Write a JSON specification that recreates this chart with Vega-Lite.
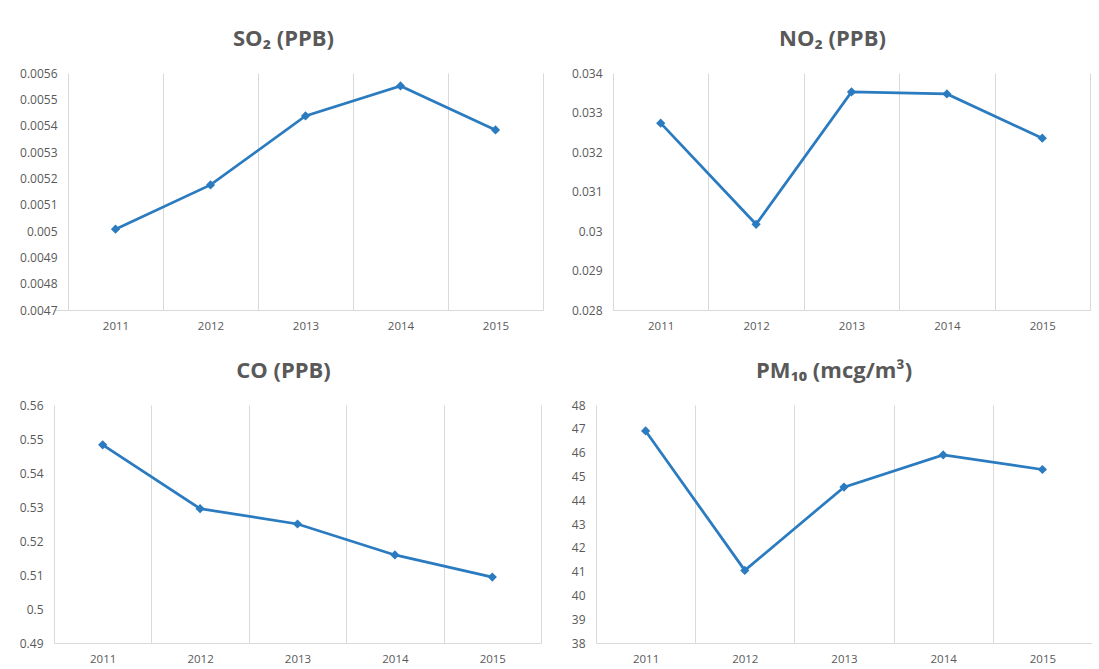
{
  "$schema": "https://vega.github.io/schema/vega-lite/v6.json",
  "background": "white",
  "padding": {"left": 0, "top": 28, "right": 0, "bottom": 0},
  "data": {"values": [
    {"pollutant": "SO2", "year": 2011, "value": 0.005007},
    {"pollutant": "SO2", "year": 2012, "value": 0.005175},
    {"pollutant": "SO2", "year": 2013, "value": 0.005437},
    {"pollutant": "SO2", "year": 2014, "value": 0.005551},
    {"pollutant": "SO2", "year": 2015, "value": 0.005384},
    {"pollutant": "NO2", "year": 2011, "value": 0.03273},
    {"pollutant": "NO2", "year": 2012, "value": 0.03017},
    {"pollutant": "NO2", "year": 2013, "value": 0.03352},
    {"pollutant": "NO2", "year": 2014, "value": 0.03347},
    {"pollutant": "NO2", "year": 2015, "value": 0.03235},
    {"pollutant": "CO", "year": 2011, "value": 0.5483},
    {"pollutant": "CO", "year": 2012, "value": 0.5295},
    {"pollutant": "CO", "year": 2013, "value": 0.525},
    {"pollutant": "CO", "year": 2014, "value": 0.5159},
    {"pollutant": "CO", "year": 2015, "value": 0.5094},
    {"pollutant": "PM10", "year": 2011, "value": 46.91},
    {"pollutant": "PM10", "year": 2012, "value": 41.05},
    {"pollutant": "PM10", "year": 2013, "value": 44.55},
    {"pollutant": "PM10", "year": 2014, "value": 45.9},
    {"pollutant": "PM10", "year": 2015, "value": 45.29}
  ]},
  "columns": 2,
  "align": "none",
  "spacing": {"row": 28, "column": 20},
  "concat": [
    {
      "width": 489, "height": 237,
      "title": {"text": "SO₂ (PPB)", "dx": -15},
      "transform": [{"filter": "datum.pollutant === 'SO2'"}],
      "mark": {"type": "line", "color": "#2a7bbf", "strokeWidth": 2.75, "point": {"shape": "diamond", "size": 85, "filled": true, "color": "#2a7bbf", "opacity": 1}},
      "encoding": {
        "x": {"field": "year", "type": "ordinal", "scale": {"type": "band", "paddingInner": 0, "paddingOuter": 0.0737, "align": 1}, "axis": {"title": null}},
        "y": {"field": "value", "type": "quantitative", "scale": {"domain": [0.0047, 0.0056], "zero": false, "nice": false}, "axis": {"title": null, "tickCount": 9, "labelPadding": -3}}
      }
    },
    {
      "width": 477, "height": 237,
      "title": {"text": "NO₂ (PPB)", "dx": -19},
      "transform": [{"filter": "datum.pollutant === 'NO2'"}],
      "mark": {"type": "line", "color": "#2a7bbf", "strokeWidth": 2.75, "point": {"shape": "diamond", "size": 85, "filled": true, "color": "#2a7bbf", "opacity": 1}},
      "encoding": {
        "x": {"field": "year", "type": "ordinal", "scale": {"type": "band", "paddingInner": 0, "paddingOuter": 0}, "axis": {"title": null}},
        "y": {"field": "value", "type": "quantitative", "scale": {"domain": [0.028, 0.034], "zero": false, "nice": false}, "axis": {"title": null, "tickCount": 6, "minExtent": 50}}
      }
    },
    {
      "width": 487, "height": 238,
      "title": {"text": "CO (PPB)", "dx": -14},
      "transform": [{"filter": "datum.pollutant === 'CO'"}],
      "mark": {"type": "line", "color": "#2a7bbf", "strokeWidth": 2.75, "point": {"shape": "diamond", "size": 85, "filled": true, "color": "#2a7bbf", "opacity": 1}},
      "encoding": {
        "x": {"field": "year", "type": "ordinal", "scale": {"type": "band", "paddingInner": 0, "paddingOuter": 0}, "axis": {"title": null}},
        "y": {"field": "value", "type": "quantitative", "scale": {"domain": [0.49, 0.56], "zero": false, "nice": false}, "axis": {"title": null, "tickCount": 7, "minExtent": 54}}
      }
    },
    {
      "width": 496, "height": 238,
      "title": {"text": "PM₁₀ (mcg/m³)", "dx": -10},
      "transform": [{"filter": "datum.pollutant === 'PM10'"}],
      "mark": {"type": "line", "color": "#2a7bbf", "strokeWidth": 2.75, "point": {"shape": "diamond", "size": 85, "filled": true, "color": "#2a7bbf", "opacity": 1}},
      "encoding": {
        "x": {"field": "year", "type": "ordinal", "scale": {"type": "band", "paddingInner": 0, "paddingOuter": 0}, "axis": {"title": null}},
        "y": {"field": "value", "type": "quantitative", "scale": {"domain": [38, 48], "zero": false, "nice": false}, "axis": {"title": null, "tickCount": 10, "minExtent": 33}}
      }
    }
  ],
  "config": {
    "view": {"stroke": null},
    "axis": {"labelFont": "Open Sans", "labelColor": "#595959"},
    "axisX": {"labelAngle": 0, "tickBand": "extent", "grid": true, "gridColor": "#d9d9d9", "gridWidth": 1, "ticks": false, "domain": true, "domainColor": "#d9d9d9", "domainWidth": 1, "labelPadding": 10, "labelFontSize": 11.5},
    "axisY": {"grid": false, "domain": false, "ticks": false, "format": "~g", "labelPadding": 11, "labelFontSize": 12},
    "title": {"font": "Open Sans", "fontSize": 22, "fontWeight": "bold", "color": "#595959", "anchor": "middle", "frame": "group", "baseline": "alphabetic", "offset": 16}
  }
}
